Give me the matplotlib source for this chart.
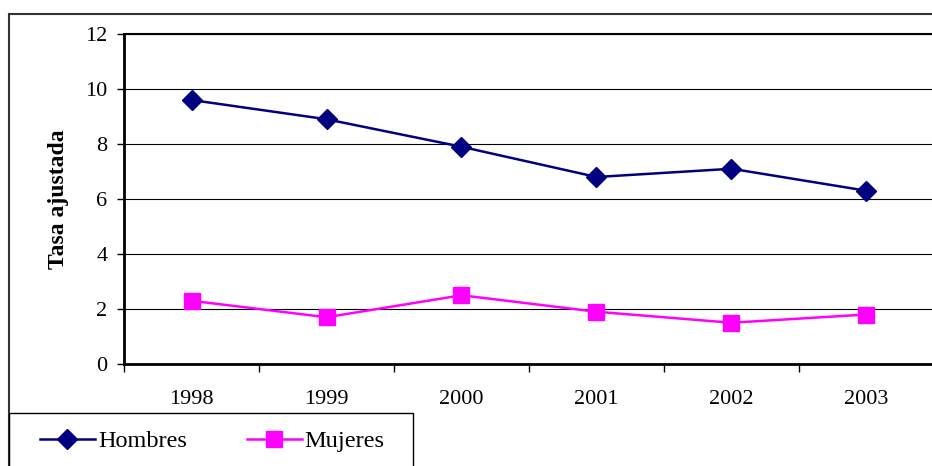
import matplotlib.pyplot as plt
from matplotlib.patches import Rectangle

# Data
years = ['1998', '1999', '2000', '2001', '2002', '2003']
hombres = [9.6, 8.9, 7.9, 6.8, 7.1, 6.3]
mujeres = [2.3, 1.7, 2.5, 1.9, 1.5, 1.8]

plt.rcParams['font.family'] = ['Liberation Serif', 'DejaVu Serif']

W, H = 932, 466
fig = plt.figure(figsize=(W / 100, H / 100), dpi=100)

# pixel -> figure coords
def fx(px):
    return px / W

def fy(py):
    return 1 - py / H

# outer frame and legend box
fig.patches.append(Rectangle((fx(9), fy(500)), fx(990) - fx(9), fy(14) - fy(500),
                             transform=fig.transFigure, fill=False,
                             edgecolor='#333333', linewidth=1.5))
fig.patches.append(Rectangle((fx(9), fy(500)), fx(413) - fx(9), fy(413) - fy(500),
                             transform=fig.transFigure, fill=False,
                             edgecolor='black', linewidth=1.0))

ax = fig.add_axes([fx(124), fy(364), fx(934) - fx(124), fy(34) - fy(364)])

x = list(range(len(years)))
l1, = ax.plot(x, hombres, color='#000080', linewidth=1.8, marker='D',
              markersize=10, label='Hombres')
l2, = ax.plot(x, mujeres, color='#FF00FF', linewidth=1.8, marker='s',
              markersize=11, label='Mujeres')

ax.set_xlim(-0.5, len(years) - 0.5)
ax.set_ylim(0, 12)
ax.set_yticks(range(0, 13, 2))
ax.set_yticklabels([str(v) for v in range(0, 13, 2)], fontsize=16)
ax.yaxis.grid(True, color='black', linewidth=0.8)
ax.set_axisbelow(True)

ax.set_xticks([i - 0.5 for i in range(len(years) + 1)])
ax.set_xticklabels([])
ax.set_xticks(x, minor=True)
ax.set_xticklabels(years, minor=True, fontsize=16)
ax.tick_params(axis='x', which='major', direction='out', length=6, width=1)
ax.tick_params(axis='x', which='minor', length=0, pad=19)
ax.tick_params(axis='y', direction='out', length=5, width=1, pad=7)

for side in ['left', 'bottom']:
    ax.spines[side].set_linewidth(2)
ax.spines['top'].set_linewidth(1.5)
ax.spines['right'].set_visible(False)

ax.set_ylabel('Tasa ajustada', fontsize=17, fontweight='bold')
ax.yaxis.set_label_coords((69 - 124) / 810, 0.5)

fig.legend(handles=[l1, l2], loc='center left',
           bbox_to_anchor=(fx(40), fy(441)), ncol=2, frameon=False,
           fontsize=17.5, handlelength=2.26, columnspacing=2.47,
           handletextpad=0.12, borderaxespad=0, borderpad=0)

fig.savefig('out.png', dpi=100)
